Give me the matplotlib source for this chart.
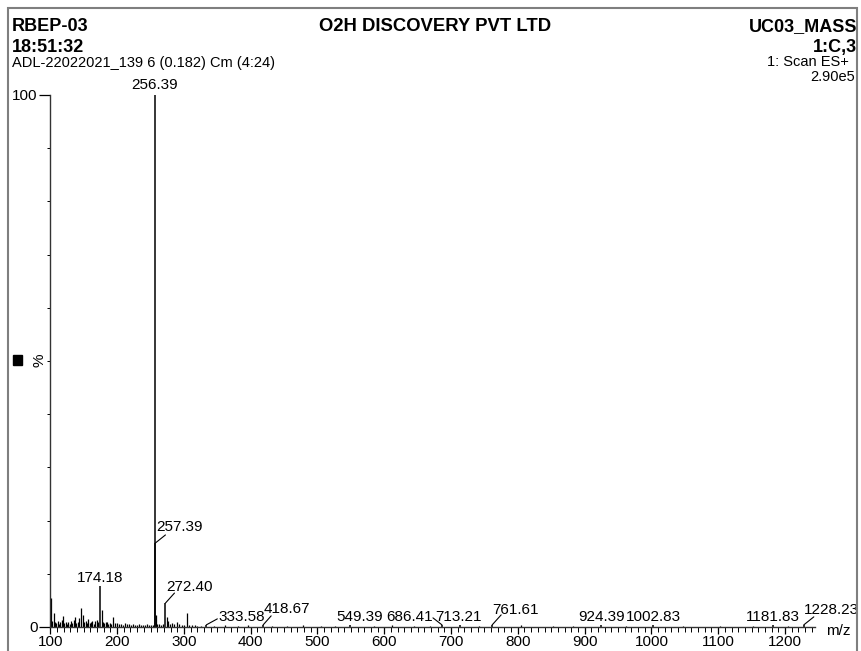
import matplotlib.pyplot as plt
from matplotlib.patches import Rectangle

plt.rcParams['font.family'] = ['Liberation Sans', 'DejaVu Sans']

# labelled peaks (m/z, relative intensity %)
label_mz = [256.39, 257.39, 174.18, 272.40, 333.58, 418.67, 549.39, 686.41,
            713.21, 761.61, 924.39, 1002.83, 1181.83, 1228.23]
label_int = [100.0, 15.8, 7.7, 4.5, 0.4, 0.4, 0.3, 0.4,
             0.3, 0.4, 0.3, 0.3, 0.3, 0.4]

# unlabelled small peaks / noise
noise_mz = [101.5, 103, 105, 107, 109, 111, 113, 115, 117, 119, 121, 123, 125,
            127, 129, 131, 133, 135, 137, 139, 141, 143, 146, 149, 151, 153,
            155, 157, 159, 161, 163, 165, 167, 170, 172, 177, 179, 181, 183,
            185, 187, 189, 191, 194, 197, 200, 203, 206, 209, 212, 215, 218,
            221, 224, 227, 230, 233, 236, 239, 242, 245, 248, 251, 254, 258.4,
            260, 263, 266, 269, 274, 276, 279, 282, 285, 289.6, 293, 297, 300,
            304.6, 308, 312, 316, 320, 325, 345, 362, 381, 396, 432, 455, 478,
            505, 526, 584, 612, 645, 668, 742, 805, 852, 883, 962, 1048, 1103,
            1152, 1204]
noise_int = [5.4, 1.2, 2.6, 1.0, 0.8, 1.1, 0.6, 0.9, 1.4, 2.0, 0.7, 1.0, 0.5,
             0.9, 0.6, 1.1, 0.7, 1.3, 1.9, 0.8, 1.0, 1.6, 3.6, 2.2, 0.9, 1.2,
             0.7, 1.5, 0.8, 1.0, 1.1, 0.6, 1.2, 1.3, 0.9, 3.2, 1.0, 0.7, 0.9,
             1.0, 0.6, 0.8, 0.5, 1.9, 0.7, 0.8, 0.5, 0.6, 0.4, 0.7, 0.5, 0.6,
             0.4, 0.5, 0.3, 0.4, 0.6, 0.3, 0.4, 0.3, 0.5, 0.3, 0.4, 0.3, 2.2,
             0.6, 0.5, 0.4, 0.6, 1.8, 1.2, 0.6, 0.8, 0.5, 1.0, 0.5, 0.4, 0.3,
             2.6, 0.4, 0.3, 0.3, 0.2, 0.2, 0.2, 0.3, 0.2, 0.3, 0.2, 0.2, 0.3,
             0.2, 0.2, 0.2, 0.3, 0.2, 0.2, 0.2, 0.3, 0.2, 0.2, 0.2, 0.2, 0.2,
             0.2, 0.2]

# label placement: (text dx, text dy, ha, leader end dx, dy) in pixels
label_pos = [
    (0, 6, 'center', None),
    (1, 12, 'left', (10, 8)),
    (0, 4, 'center', None),
    (1, 12, 'left', (9, 10)),
    (12, 4, 'left', (11, 6)),
    (0, 12, 'left', (8, 9)),
    (9, 4, 'center', None),
    (-9, 4, 'right', (-9, 7)),
    (-1, 4, 'center', None),
    (0, 11, 'left', (9, 10)),
    (1, 4, 'center', None),
    (0, 4, 'center', None),
    (0, 4, 'center', None),
    (0, 11, 'left', (10, 8)),
]

W, H = 861, 651
fig = plt.figure(figsize=(W / 100, H / 100), dpi=100)
ax = fig.add_axes([50 / W, 1 - 627 / H, 765 / W, 532 / H])

ax.vlines(noise_mz, 0, noise_int, color='black', lw=0.9)
ax.vlines(label_mz, 0, label_int, color='black', lw=1.1)

for mz, h, (tx, ty, ha, lead) in zip(label_mz, label_int, label_pos):
    ax.annotate(f'{mz:.2f}', xy=(mz, h), xytext=(tx, ty),
                textcoords='offset pixels', ha=ha, va='baseline',
                fontsize=11, annotation_clip=False)
    if lead:
        ax.annotate('', xy=(mz, h), xytext=lead, textcoords='offset pixels',
                    arrowprops=dict(arrowstyle='-', shrinkA=0, shrinkB=0,
                                    lw=0.8, color='black'),
                    annotation_clip=False)

ax.set_xlim(99.5, 1245)
ax.set_ylim(0, 100)
ax.set_xticks(range(100, 1201, 100))
ax.set_xticks(range(100, 1241, 10), minor=True)
ax.set_yticks([0, 100])
ax.set_yticks(range(10, 100, 10), minor=True)
ax.tick_params(axis='x', which='major', length=5, width=0.9, pad=0.5, labelsize=11)
ax.tick_params(axis='x', which='minor', length=3.5, width=0.7)
ax.tick_params(axis='y', which='major', length=8, width=0.9, pad=1, labelsize=11)
ax.tick_params(axis='y', which='minor', length=2.5, width=0.7)
for s in ['top', 'right']:
    ax.spines[s].set_visible(False)
for s in ['left', 'bottom']:
    ax.spines[s].set_color('#333333')
    ax.spines[s].set_linewidth(1.0)

def ftext(x, y, s, **kw):
    fig.text(x / W, 1 - y / H, s, va='baseline', **kw)

ftext(12, 31, 'RBEP-03', fontsize=13, fontweight='bold')
ftext(12, 52, '18:51:32', fontsize=13, fontweight='bold')
ftext(12, 67, 'ADL-22022021_139 6 (0.182) Cm (4:24)', fontsize=10.5)
ftext(435, 31, 'O2H DISCOVERY PVT LTD', fontsize=13.3, fontweight='bold', ha='center')
ftext(857, 31, 'UC03_MASS', fontsize=13, fontweight='bold', ha='right')
ftext(857, 52, '1:C,3', fontsize=13, fontweight='bold', ha='right')
ftext(849, 66, '1: Scan ES+', fontsize=10.5, ha='right')
ftext(855, 81, '2.90e5', fontsize=10.5, ha='right')
ftext(838, 635, 'm/z', fontsize=11, ha='center')

fig.patches.append(Rectangle((13 / W, 1 - 365 / H), 9 / W, 10 / H,
                             transform=fig.transFigure, color='black'))
fig.text(40 / W, 1 - 360 / H, '%', fontsize=11, rotation=90,
         ha='center', va='center')

fig.patches.append(Rectangle((8 / W, -0.05), 849 / W, 1.05 - 8 / H,
                             transform=fig.transFigure, fill=False,
                             edgecolor='#7f7f7f', lw=1.5))

fig.savefig('out.png', dpi=100)
